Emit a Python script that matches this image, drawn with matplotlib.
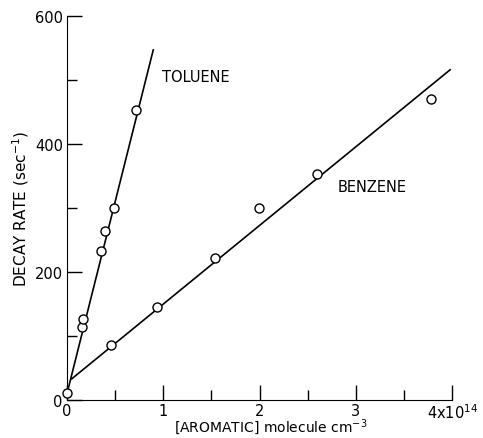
import matplotlib.pyplot as plt
import numpy as np

# Toluene data (10^14 molecule cm^-3, sec^-1)
tol_x = [0.0, 0.16, 0.166, 0.353, 0.398, 0.49, 0.72]
tol_y = [11, 114, 127, 233, 264, 300, 453]
tol_fit_x = [0.0, 0.896]
tol_fit_y = [10, 547]

# Benzene data
ben_x = [0.457, 0.94, 1.54, 1.99, 2.60, 3.78]
ben_y = [86, 146, 222, 300, 353, 471]
ben_fit_x = [0.049, 3.98]
ben_fit_y = [33, 516]

x_ticks = [0, 1, 2, 3, 4]
x_labels = ['0', '1', '2', '3', r'4x10$^{14}$']
y_ticks = [0, 200, 400, 600]

fig = plt.figure(figsize=(4.83, 4.39), dpi=100)
ax = fig.add_axes([0.1387, 0.0866, 0.7973, 0.8747])

ax.plot(tol_fit_x, tol_fit_y, color='black', linewidth=1.2, clip_on=False)
ax.plot(ben_fit_x, ben_fit_y, color='black', linewidth=1.2, clip_on=False)
ax.plot(tol_x, tol_y, 'o', markersize=6.5, mfc='white', mec='black', mew=1.0, clip_on=False, zorder=3)
ax.plot(ben_x, ben_y, 'o', markersize=6.5, mfc='white', mec='black', mew=1.0, clip_on=False, zorder=3)

ax.text(0.99, 506, 'TOLUENE', fontsize=10.5, ha='left', va='center')
ax.text(2.81, 334, 'BENZENE', fontsize=10.5, ha='left', va='center')

ax.set_xlim(0, 4)
ax.set_ylim(0, 600)
ax.spines['top'].set_visible(False)
ax.spines['right'].set_visible(False)

ax.set_xticks(x_ticks)
ax.set_xticklabels(x_labels)
ax.set_xticks([0.5, 1.5, 2.5, 3.5], minor=True)
ax.set_yticks(y_ticks)
ax.set_yticks([100, 300, 500], minor=True)
ax.tick_params(which='major', direction='in', length=11, width=1, labelsize=10.5)
ax.tick_params(axis='x', which='major', pad=2)
ax.tick_params(axis='y', which='major', pad=3)
ax.tick_params(which='minor', direction='in', length=7, width=1)

ax.set_ylabel(r'DECAY RATE (sec$^{-1}$)', fontsize=11, labelpad=3)
ax.set_xlabel(r'[AROMATIC] molecule cm$^{-3}$', fontsize=10)
ax.xaxis.set_label_coords(0.53, -0.043)

fig.savefig('out.png', dpi=100)
